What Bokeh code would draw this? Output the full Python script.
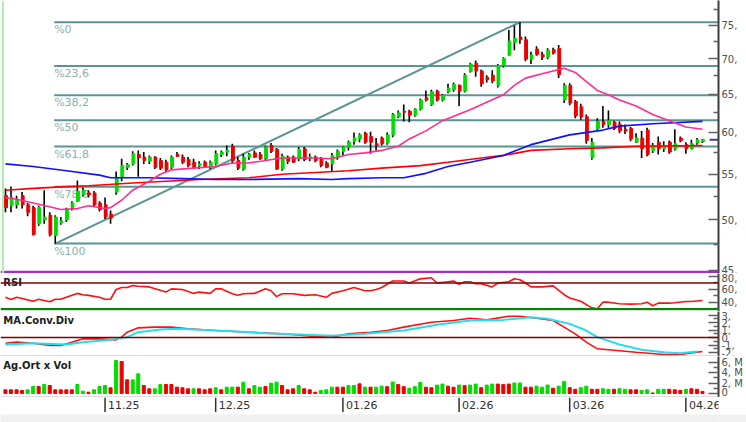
from bokeh.plotting import figure
from bokeh.layouts import column
from bokeh.models import Range1d, FixedTicker, Span, Label, ColumnDataSource
from bokeh.core.properties import value
from bokeh.embed import file_html
from bokeh.resources import INLINE

# ---------------- data ----------------
opens = [52.6, 51.5, 51.6, 52.6, 51.6, 51.3, 49.6, 50.0, 50.5, 48.4,
         49.7, 50.0, 51.3, 52.0, 52.7, 52.9, 52.9, 51.8, 51.6, 50.6,
         53.0, 54.7, 55.8, 56.2, 57.3, 57.0, 56.5, 57.0, 56.6, 56.4,
         55.8, 57.3, 57.0, 56.7, 56.4, 56.0, 56.4, 55.8, 56.2, 57.3,
         57.6, 58.3, 56.6, 55.6, 57.0, 57.5, 57.3, 56.8, 58.4, 57.9,
         55.6, 57.0, 57.0, 56.8, 58.0, 56.8, 57.0, 56.8, 56.3, 56.2,
         57.0, 57.7, 58.2, 58.9, 59.2, 59.9, 59.5, 58.6, 59.3, 58.7,
         59.7, 62.0, 62.7, 62.7, 62.2, 63.0, 64.5, 63.6, 65.4, 64.2,
         65.3, 65.6, 66.2, 65.4, 68.1, 69.3, 68.2, 67.3, 67.6, 66.2,
         69.0, 70.5, 72.4, 73.2, 72.8, 69.9, 71.4, 70.6, 70.2, 71.3,
         71.5, 64.2, 66.2, 64.0, 63.3, 62.0, 56.9, 60.5, 61.4, 61.0,
         61.3, 61.0, 60.4, 60.5, 58.8, 59.3, 60.3, 57.8, 58.8, 58.0,
         58.8, 58.0, 59.3, 58.5, 58.0, 58.7, 58.9]
highs = [53.4, 53.6, 52.6, 53.0, 51.8, 51.5, 51.5, 53.2, 50.8, 50.5,
         50.3, 51.3, 52.0, 54.3, 53.5, 53.2, 53.1, 52.0, 52.4, 51.0,
         55.3, 56.8, 56.3, 57.7, 57.8, 57.6, 57.2, 57.1, 56.9, 56.7,
         57.2, 57.6, 57.3, 57.0, 56.8, 56.5, 56.6, 56.6, 57.8, 57.8,
         58.4, 58.6, 57.0, 57.4, 57.5, 57.8, 57.6, 58.4, 58.7, 58.1,
         57.4, 57.2, 57.2, 58.2, 58.2, 57.4, 57.2, 57.0, 56.5, 57.5,
         57.9, 58.3, 59.0, 60.0, 59.9, 60.1, 60.1, 59.3, 59.5, 60.0,
         62.5, 62.8, 63.6, 62.9, 63.1, 64.4, 65.5, 65.6, 65.6, 65.0,
         66.4, 66.6, 66.3, 67.9, 69.4, 69.7, 68.4, 67.6, 68.3, 69.2,
         70.2, 74.3, 75.0, 75.5, 73.3, 71.0, 71.8, 71.0, 71.5, 71.6,
         72.0, 66.5, 66.5, 64.2, 63.7, 62.3, 59.3, 61.8, 63.4, 62.8,
         61.5, 61.4, 61.0, 60.7, 59.9, 60.2, 60.6, 58.7, 59.5, 58.9,
         59.0, 60.4, 59.5, 58.8, 59.1, 59.3, 59.2]
lows = [50.8, 50.8, 51.2, 51.2, 50.4, 48.4, 49.4, 49.6, 48.3, 47.6,
        49.5, 49.8, 51.0, 51.9, 52.5, 52.4, 51.4, 50.9, 50.1, 49.6,
        52.7, 54.2, 55.5, 56.0, 54.7, 56.2, 56.2, 55.6, 55.5, 55.3,
        55.6, 57.0, 56.2, 55.8, 55.7, 55.6, 55.8, 55.6, 56.0, 57.0,
        57.1, 56.2, 55.5, 55.4, 56.7, 56.9, 56.7, 56.6, 57.5, 55.5,
        55.4, 56.2, 56.3, 56.5, 56.5, 56.5, 56.4, 55.8, 55.7, 55.3,
        56.7, 57.2, 57.8, 58.5, 58.8, 58.6, 57.4, 57.8, 58.4, 58.5,
        59.4, 61.8, 61.4, 61.3, 62.0, 62.8, 64.0, 63.4, 64.0, 64.0,
        65.1, 65.3, 63.4, 65.2, 68.0, 67.4, 66.0, 66.6, 66.5, 65.9,
        68.7, 70.4, 71.2, 72.2, 69.6, 69.2, 70.4, 69.8, 69.9, 70.6,
        67.2, 63.8, 63.5, 61.8, 61.6, 58.6, 56.7, 60.3, 60.6, 60.6,
        60.3, 59.9, 59.8, 58.9, 58.7, 56.9, 57.1, 57.5, 57.3, 57.6,
        57.4, 57.8, 58.8, 57.4, 57.9, 58.5, 58.7]
closes = [51.3, 52.4, 52.1, 51.6, 50.8, 48.5, 51.3, 50.3, 48.5, 50.3,
          49.9, 51.1, 51.8, 53.1, 53.2, 52.7, 51.6, 51.1, 50.3, 50.2,
          54.6, 56.0, 56.1, 57.4, 56.9, 56.6, 57.0, 55.8, 55.7, 55.5,
          57.0, 57.1, 56.4, 56.0, 55.8, 56.2, 55.9, 56.4, 57.4, 57.6,
          57.8, 56.6, 55.7, 57.0, 57.3, 57.0, 56.8, 58.2, 57.7, 55.6,
          57.1, 56.5, 56.4, 57.9, 56.7, 57.0, 56.6, 56.0, 55.8, 57.2,
          57.7, 58.2, 58.8, 59.3, 59.7, 58.8, 58.8, 58.4, 58.6, 59.7,
          62.3, 62.5, 62.6, 62.2, 63.0, 64.2, 64.2, 65.3, 64.2, 64.8,
          65.8, 66.3, 65.4, 67.6, 69.2, 68.2, 66.4, 67.0, 66.8, 69.0,
          70.0, 72.6, 73.0, 72.8, 69.9, 70.5, 70.6, 70.2, 71.2, 70.8,
          67.7, 66.2, 63.8, 62.1, 62.0, 59.0, 58.8, 61.4, 61.0, 61.5,
          60.5, 60.2, 60.2, 59.2, 59.3, 58.0, 57.3, 58.4, 58.0, 58.4,
          57.6, 58.6, 59.0, 58.0, 58.6, 59.1, 59.1]

volume_m = [0.70, 0.70, 0.70, 0.57, 0.70, 1.33, 1.33, 1.71, 1.52, 0.70,
            0.70, 0.70, 0.70, 1.71, 0.44, 0.25, 0.70, 1.33, 1.52, 1.08,
            6.29, 6.10, 2.60, 2.60, 3.75, 1.52, 0.89, 0.89, 1.71, 1.71,
            1.71, 1.21, 1.08, 0.89, 0.89, 0.89, 0.70, 0.89, 1.08, 0.70,
            1.21, 1.21, 1.21, 2.16, 0.89, 1.52, 1.21, 1.33, 1.97, 2.16,
            1.52, 0.70, 0.89, 1.52, 0.89, 0.70, 0.25, 0.57, 0.70, 1.21,
            1.21, 1.21, 1.52, 1.52, 1.84, 1.21, 1.21,
            1.2, 1.4, 1.3, 2.2, 1.7, 1.3, 1.0, 1.3, 2.1, 1.2,
            1.1, 1.6, 1.8, 1.4, 1.2, 1.6, 1.5, 1.6, 1.8, 1.1,
            1.6, 1.8, 1.8, 1.7, 1.8, 2.0, 2.0, 1.2, 1.2, 1.4,
            1.2, 1.6, 1.0, 1.4, 2.3, 1.1, 0.8, 1.1, 1.4, 0.8,
            0.8, 0.9, 0.8, 0.8, 0.9, 0.8, 0.7, 0.7, 0.6, 0.7,
            0.1, 0.8, 0.8, 0.8, 0.7, 0.6, 0.8, 0.9, 0.8, 0.4]
volume_up = [0, 0, 0, 0, 1, 1, 0, 1, 0, 0,
             0, 0, 0, 1, 1, 0, 1, 1, 1, 0,
             1, 0, 0, 1, 1, 0, 0, 1, 1, 0,
             0, 0, 0, 0, 1, 0, 0, 0, 1, 0,
             1, 1, 0, 1, 0, 1, 1, 0, 1, 1,
             0, 0, 0, 1, 0, 0, 0, 1, 1, 1,
             0, 0, 1, 1, 0, 1, 0,
             1, 1, 0, 1, 0, 0, 1, 1, 1, 0,
             0, 1, 1, 0, 0, 1, 0, 1, 1, 0,
             1, 1, 0, 0, 0, 1, 1, 0, 0, 1,
             1, 1, 0, 1, 1, 0, 0, 1, 1, 0,
             0, 1, 1, 0, 1, 1, 0, 0, 1, 1,
             0, 1, 1, 0, 0, 0, 1, 0, 0, 0]

ma_pink_idx = [0, 2, 5, 8, 10, 13, 15, 18, 19, 21, 23, 26, 28, 30, 34, 38, 41, 44, 50, 56,
               59, 62, 65, 68, 71, 73, 76, 79, 84, 90, 92, 94, 97, 101, 103, 105, 107, 109, 111, 114,
               117, 120, 123, 126]
ma_pink_val = [52.4, 52.2, 51.8, 51.4, 51.1, 51.2, 51.5, 51.2, 51.3, 52.1, 53.2, 54.2, 55.0, 55.5, 55.7, 55.9, 56.3, 56.3, 56.9, 56.9,
               56.8, 57.3, 57.5, 57.8, 58.3, 59.2, 60.2, 61.5, 62.9, 64.9, 66.2, 67.2, 67.8, 68.6, 68.0, 66.7, 65.5, 64.9, 64.2, 63.4,
               62.3, 61.5, 60.7, 60.4]
ma_blue_idx = [0, 5, 11, 17, 19, 26, 32, 38, 44, 53, 59, 62, 68, 72, 76, 80, 84, 90, 95, 102, 108, 111, 117, 126]
ma_blue_val = [56.2, 55.9, 55.4, 54.9, 54.6, 54.6, 54.5, 54.4, 54.4, 54.5, 54.4, 54.5, 54.6, 54.6, 55.1, 55.9, 56.4, 57.2, 58.5, 59.7, 60.3, 60.8, 61.1, 61.4]
ma_red_idx = [0, 5, 11, 15, 23, 29, 35, 44, 50, 56, 62, 68, 75, 80, 86, 90, 95, 102, 108, 114, 126]
ma_red_val = [53.2, 53.4, 53.6, 53.7, 54.0, 54.2, 54.4, 54.6, 55.0, 55.2, 55.4, 55.7, 56.0, 56.4, 56.9, 57.2, 57.8, 58.0, 58.1, 58.3, 58.4]

rsi_idx = [0, 1, 2, 3, 5, 6, 7, 8, 9, 10, 11, 13, 14, 15, 17, 18, 19, 20, 21, 22,
           23, 24, 26, 29, 30, 32, 34, 35, 37, 38, 39, 41, 42, 43, 45, 47, 48, 49, 50, 52,
           54, 56, 58, 59, 61, 63, 65, 66, 67, 68, 70, 72, 73, 75, 77, 78, 80, 81, 82, 83,
           84, 85, 86, 88, 89, 91, 92, 93, 94, 95, 97, 99, 101, 102, 104, 106, 107, 108, 109, 111,
           113, 115, 116, 117, 118, 120, 121, 123, 124, 126]
rsi_val = [48, 44.6, 48, 46, 42, 45, 43, 41, 45, 45, 48, 54, 52, 51, 48, 45, 45, 60, 63, 63,
           66, 65, 64, 56, 61, 60, 54, 56, 54, 61, 61, 53.5, 51, 53.5, 54, 61, 58, 49, 53.5, 53.5,
           51, 52, 48, 54, 58, 63, 58, 58, 60, 63, 73, 73, 70, 76.4, 78, 70, 72, 73, 68, 72,
           72, 69, 69, 64, 70, 72, 76.4, 75, 70, 64, 64, 65.5, 52, 47, 42, 31.8, 30.5, 40.5, 40.5, 38,
           37.5, 38, 40.5, 35, 39, 39, 39.5, 41.5, 41.5, 43]
rsi_upper, rsi_lower = 70, 30

macd_idx = [0, 2, 5, 8, 10, 12, 14, 17, 20, 21, 22, 24, 27, 30, 33, 38, 44, 50, 56, 59,
            62, 66, 69, 72, 77, 81, 84, 87, 91, 93, 96, 99, 101, 103, 105, 107, 109, 114, 119, 122, 126]
macd_val = [-0.76, -0.62, -0.76, -1.07, -1.07, -0.62, -0.18, -0.18, -0.31, 0.05, 0.71, 1.29, 1.38, 1.38, 1.16, 0.93, 0.71, 0.49, 0.13, 0.05,
            0.49, 0.71, 0.93, 1.38, 2.04, 2.27, 2.57, 2.35, 2.84, 2.84, 2.57, 2.27, 1.38, 0.49, -0.62, -1.51, -1.64, -1.96, -2.27, -2.27, -1.87]
signal_idx = [0, 5, 11, 14, 19, 22, 24, 28, 31, 35, 41, 47, 53, 59, 65, 72, 78, 84, 90, 95,
              98, 102, 105, 107, 111, 115, 119, 122, 125]
signal_val = [-0.93, -0.76, -0.93, -0.62, -0.31, 0.05, 0.71, 1.07, 1.16, 1.02, 0.84, 0.58, 0.40, 0.22, 0.49, 0.93, 1.69, 2.27, 2.35, 2.71,
              2.49, 1.82, 0.93, 0.05, -0.93, -1.64, -1.96, -2.09, -1.87]

fib_low, fib_high = 47.6, 75.5
fib_start_idx, fib_peak_idx = 9, 93
fib_ratios = [0, 23.6, 38.2, 50, 61.8, 78.6, 100]
fib_labels = ["%0", "%23,6", "%38,2", "%50", "%61,8", "%78,6", "%100"]

x_tick_idx = [18, 38, 61, 82, 102, 123]
x_tick_labels = ["11.25", "12.25", "01.26", "02.26", "03.26", "04.26"]

price_ticks = [45, 50, 55, 60, 65, 70, 75]
price_minor = [47.5, 52.5, 57.5, 62.5, 67.5, 72.5, 77.5]
price_labels = ["45,", "50,", "55,", "60,", "65,", "70,", "75,"]
rsi_ticks = [40, 60, 80]
rsi_minor = [30, 50, 70]
rsi_labels = ["40,", "60,", "80,"]
macd_ticks = [-2, -1, 0, 1, 2, 3]
macd_minor = [-1.5, -0.5, 0.5, 1.5, 2.5]
macd_labels = ["-2,", "-1,", "0", "1,", "2,", "3,"]
vol_ticks = [0, 2, 4, 6]
vol_minor = [1, 3, 5]
vol_labels = ["0", "2, M", "4, M", "6, M"]

# ---------------- styling ----------------
FW = 718
N = len(closes)
XR = Range1d(-0.9, 128.9)
AXFONT = "DejaVu Sans"
UP, DOWN = "#00dd00", "#ee0000"
FIB = "#5b9494"


def base_fig(fh, yr, ytype="linear", axis=True, bg="white"):
    p = figure(frame_width=FW, frame_height=fh, x_range=XR, y_range=yr,
               y_axis_type=ytype, output_backend="svg", toolbar_location=None,
               x_axis_location=None, y_axis_location="right" if axis else None,
               min_border_left=0, min_border_right=0 if axis else 28,
               min_border_top=0, min_border_bottom=0,
               background_fill_color=bg, border_fill_color=bg)
    p.grid.visible = False
    p.outline_line_color = None
    return p


def style_axis(p, ticks, minor, labels):
    ax = p.yaxis[0]
    ax.ticker = FixedTicker(ticks=ticks, minor_ticks=minor)
    ax.major_label_overrides = dict(zip(ticks, labels))
    ax.axis_line_color = "#3c3c3c"
    ax.axis_line_width = 2
    ax.major_tick_in = 10
    ax.major_tick_out = 0
    ax.minor_tick_in = 5
    ax.minor_tick_out = 0
    ax.major_tick_line_color = "#606060"
    ax.minor_tick_line_color = "#606060"
    ax.major_tick_line_width = 1.5
    ax.minor_tick_line_width = 1.5
    ax.major_label_text_font = AXFONT
    ax.major_label_text_font_size = "10px"
    ax.major_label_text_color = "#505050"
    ax.major_label_standoff = 3


# ---------------- main price panel ----------------
pm = base_fig(273, Range1d(44.72, 79.0), ytype="log")
style_axis(pm, price_ticks, price_minor, price_labels)

fib_levels = [fib_high - r / 100.0 * (fib_high - fib_low) for r in fib_ratios]
fib_src = ColumnDataSource(dict(x0=[fib_start_idx - 0.2] * len(fib_levels),
                                x1=[XR.end] * len(fib_levels),
                                y=fib_levels, text=fib_labels))
pm.segment(x0="x0", y0="y", x1="x1", y1="y", source=fib_src, line_color=FIB, line_width=2)
pm.text(x="x0", y="y", text="text", source=fib_src, text_font=value(AXFONT),
        text_font_size=value("11px"), text_color="#8db0b0", text_baseline="top", y_offset=1)
pm.line(x=[fib_start_idx, fib_peak_idx], y=[fib_low, fib_high], line_color=FIB, line_width=2)

colors = [UP if c >= o else DOWN for o, c in zip(opens, closes)]
csrc = ColumnDataSource(dict(x=list(range(N)), xb=[i + 0.12 for i in range(N)],
                             h=highs, l=lows,
                             top=[max(o, c) for o, c in zip(opens, closes)],
                             bot=[min(o, c) for o, c in zip(opens, closes)],
                             color=colors))
pm.segment(x0="x", y0="l", x1="x", y1="h", source=csrc, line_color="black", line_width=1.6)
pm.vbar(x="xb", width=0.5, top="top", bottom="bot", source=csrc,
        fill_color="color", line_color="color", line_width=1)

pm.line(ma_red_idx, ma_red_val, line_color="#ff0000", line_width=1.6)
pm.line(ma_blue_idx, ma_blue_val, line_color="#1010ff", line_width=1.6)
pm.line(ma_pink_idx, ma_pink_val, line_color="#ff2d8f", line_width=1.6)
pm.segment(x0=[N + 0.3], y0=[closes[-1]], x1=[XR.end], y1=[closes[-1]],
           line_color="#3c3ca0", line_width=2)

pm.add_layout(Span(location=44.85, dimension="width", line_color="#a52fc4", line_width=2.5))
pm.add_layout(Span(location=-0.45, dimension="height", line_color="#aaf0aa", line_width=2))

# ---------------- RSI panel ----------------
pr = base_fig(38, Range1d(26.15, 84.6))
style_axis(pr, rsi_ticks, rsi_minor, rsi_labels)
pr.add_layout(Span(location=26.8, dimension="width", line_color="#d0d0d0", line_width=1.5))
pr.add_layout(Label(x=-0.4, y=79.5, text="RSI", text_font=AXFONT, text_font_size="10px",
                    text_font_style="bold", text_color="#202020", text_baseline="top"))
pr.add_layout(Span(location=rsi_upper, dimension="width", line_color="#800000", line_width=1.5))
pr.add_layout(Span(location=rsi_lower, dimension="width", line_color="#008800", line_width=2))
pr.line(rsi_idx, rsi_val, line_color="#ff1010", line_width=1.6)

# ---------------- MACD panel ----------------
pc = base_fig(45, Range1d(-2.533, 3.467))
style_axis(pc, macd_ticks, macd_minor, macd_labels)
pc.add_layout(Span(location=-2.47, dimension="width", line_color="#d0d0d0", line_width=1.5))
pc.add_layout(Span(location=0, dimension="width", line_color="#800000", line_width=1.5))
pc.add_layout(Label(x=-0.4, y=3.0, text="MA.Conv.Div", text_font=AXFONT, text_font_size="10px",
                    text_font_style="bold", text_color="#202020", text_baseline="top"))
pc.line(macd_idx, macd_val, line_color="#ff1010", line_width=1.6)
pc.line(signal_idx, signal_val, line_color="#20e0f0", line_width=2)

# ---------------- volume panel ----------------
pv = base_fig(41, Range1d(-0.762, 7.05))
style_axis(pv, vol_ticks, vol_minor, vol_labels)
pv.add_layout(Span(location=-0.67, dimension="width", line_color="#d0d0d0", line_width=1.5))
pv.add_layout(Label(x=-0.4, y=6.3, text="Ag.Ort x Vol", text_font=AXFONT, text_font_size="10px",
                    text_font_style="bold", text_color="#202020", text_baseline="top"))
vsrc = ColumnDataSource(dict(x=list(range(N)), top=volume_m,
                             color=[UP if u else DOWN for u in volume_up]))
pv.vbar(x="x", width=0.55, top="top", bottom=0, source=vsrc,
        fill_color="color", line_color="color")

# ---------------- x axis strip ----------------
px = base_fig(15, Range1d(15, 0), axis=False)
xsrc = ColumnDataSource(dict(x=x_tick_idx, xt=[t + 0.55 for t in x_tick_idx], text=x_tick_labels))
px.segment(x0="x", y0=0, x1="x", y1=15, source=xsrc, line_color="#303030", line_width=1.5)
px.text(x="xt", y=3, text="text", source=xsrc, text_font=value(AXFONT),
        text_font_size=value("11px"), text_color="#303030", text_baseline="top")

# ---------------- bottom strip ----------------
pb = base_fig(10, Range1d(0, 1), axis=False, bg="#f0f0f0")

layout = column(pm, pr, pc, pv, px, pb, spacing=0)
open("out.html", "w").write(file_html(layout, INLINE))
